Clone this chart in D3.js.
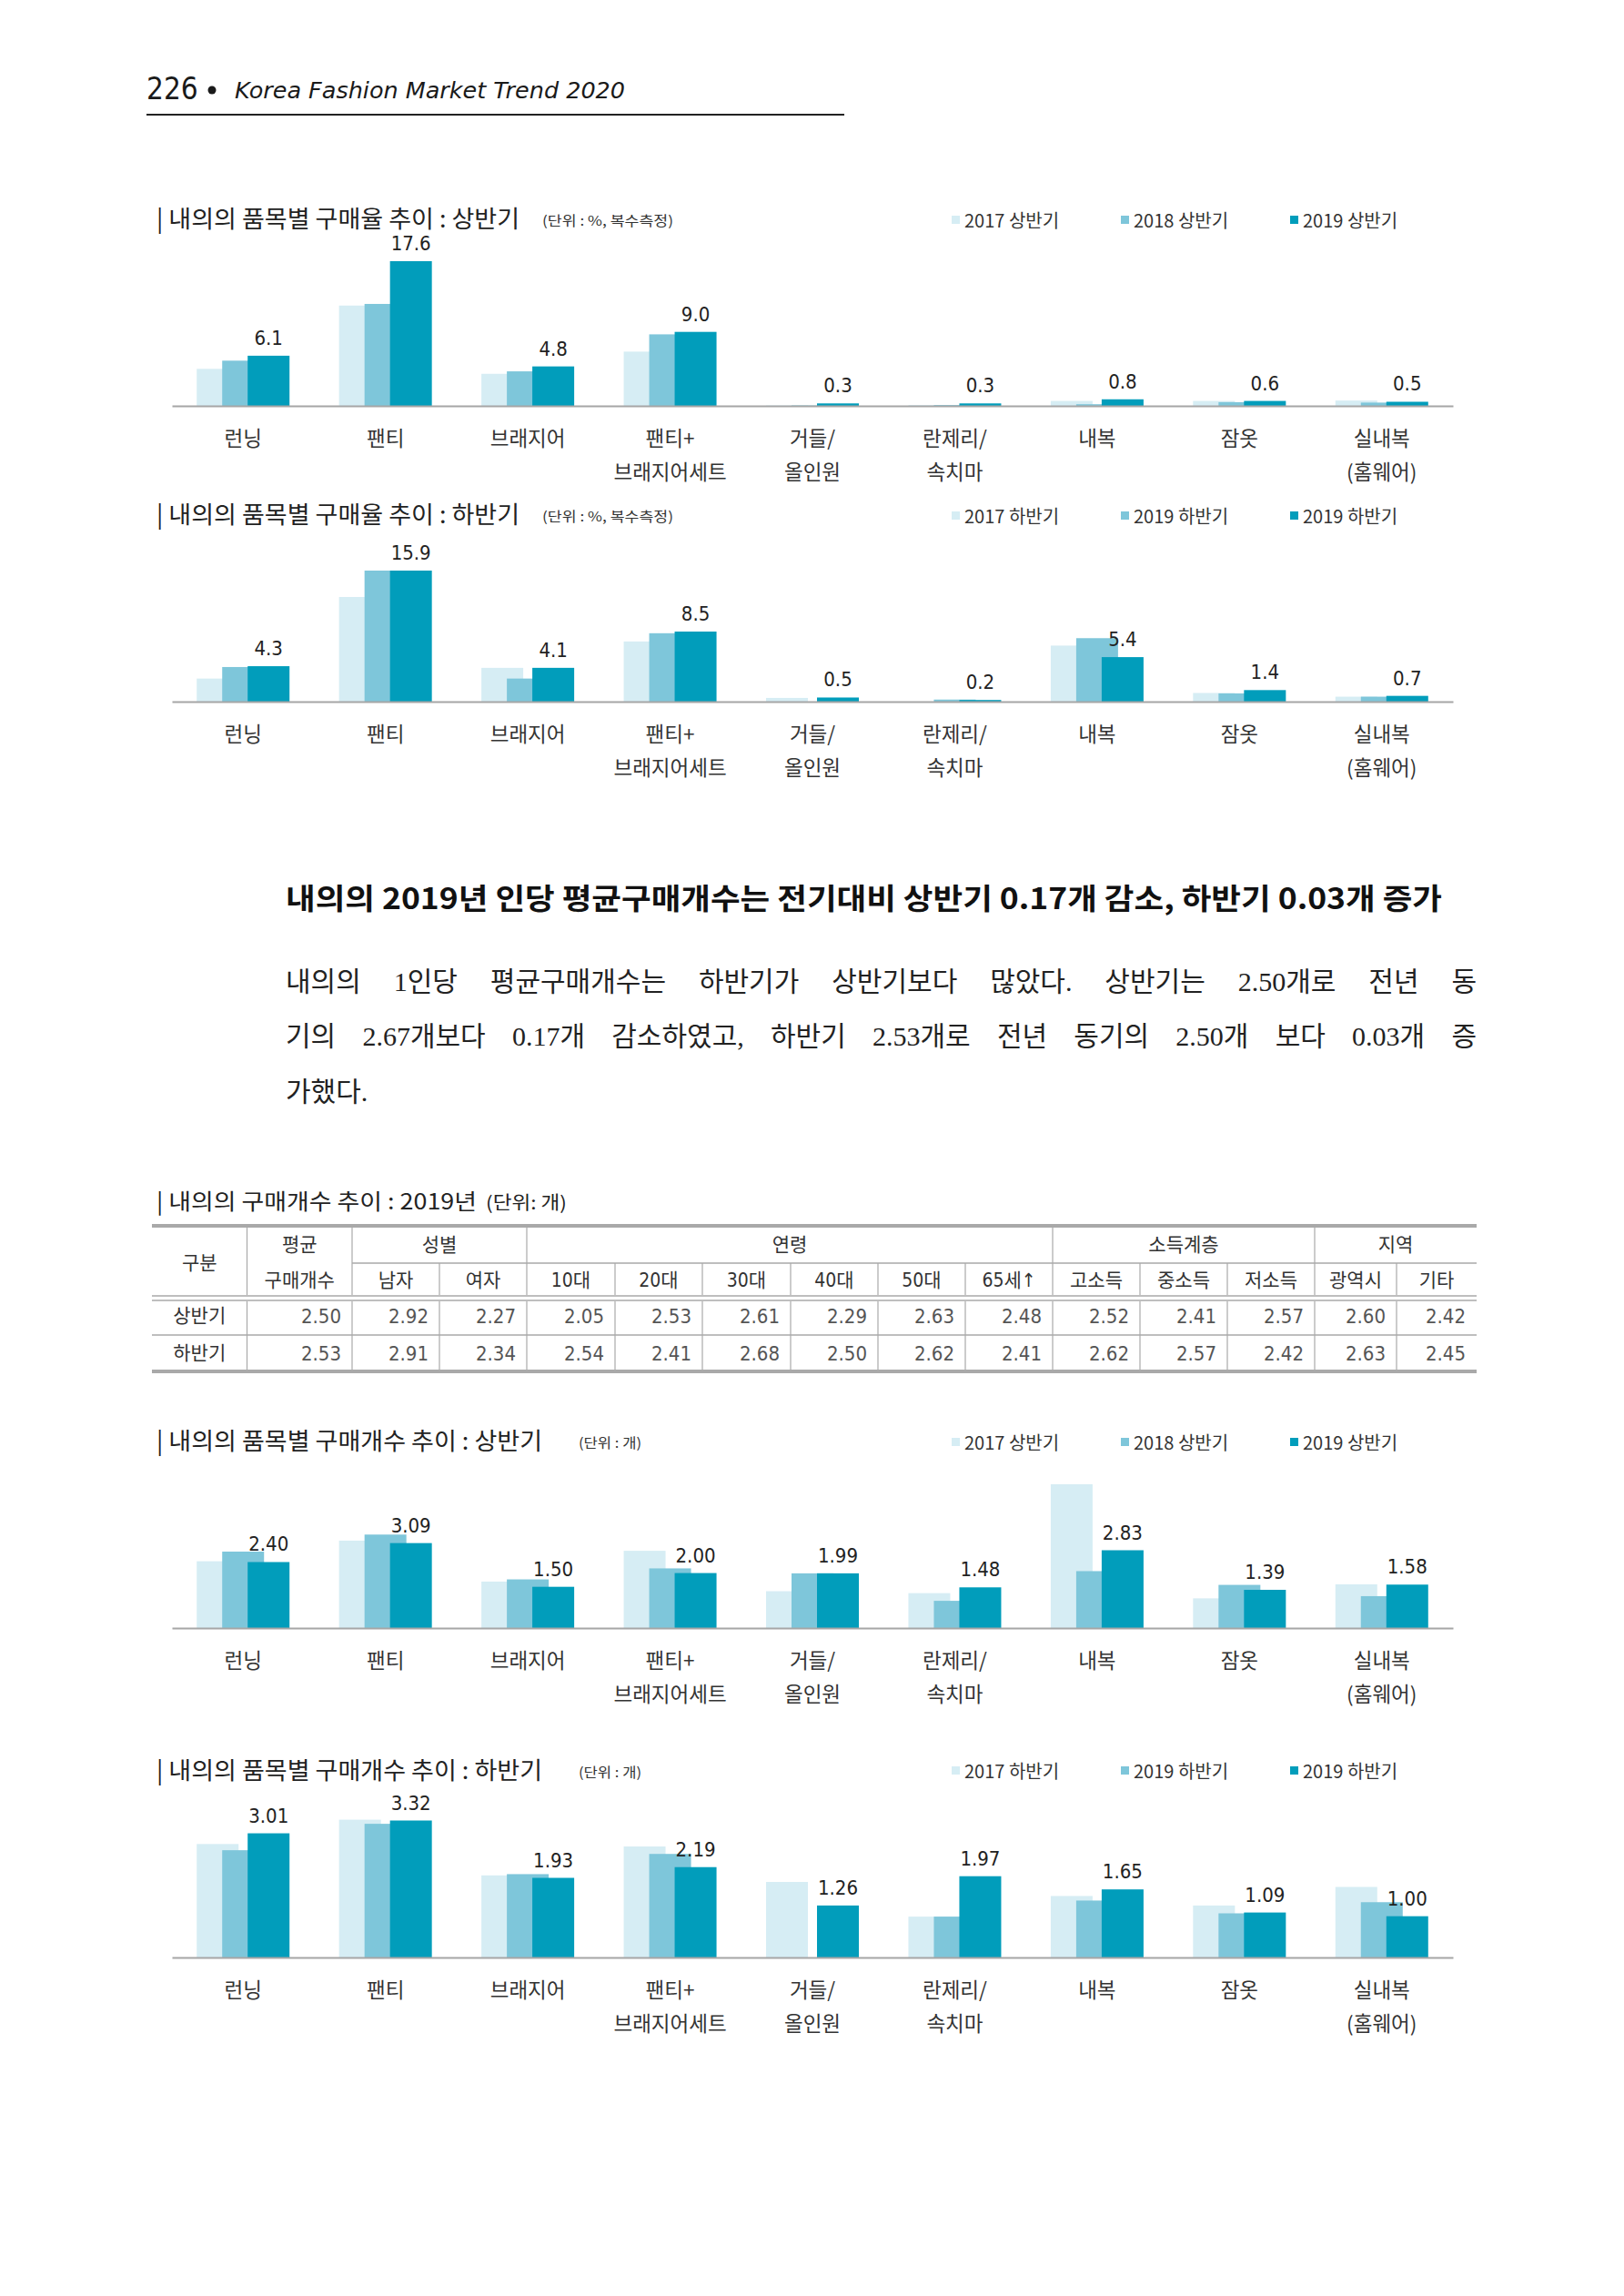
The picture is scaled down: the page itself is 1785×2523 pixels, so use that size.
<!DOCTYPE html>
<html>
<head>
<meta charset="utf-8">
<script src="https://cdn.jsdelivr.net/npm/d3@7"></script>
<style>
  body { margin: 0; background: #fff; }
  svg text { font-family: 'Noto Sans CJK KR', sans-serif; }
</style>
</head>
<body>
<div id="page"></div>
<script>
// ---- data ----
var pageNumber = '226';
var pageTitle = 'Korea Fashion Market Trend 2020';

var catLines = [['런닝'], ['팬티'], ['브래지어'], ['팬티+', '브래지어세트'], ['거들/', '올인원'],
  ['란제리/', '속치마'], ['내복'], ['잠옷'], ['실내복', '(홈웨어)']];

var legendH1 = ['2017 상반기', '2018 상반기', '2019 상반기'];
var legendH2 = ['2017 하반기', '2019 하반기', '2019 하반기'];

// 구매율 (%)
var rateH1_2017 = [4.5, 12.2, 3.9, 6.6, 0.05, 0.1, 0.6, 0.6, 0.65];
var rateH1_2018 = [5.5, 12.4, 4.2, 8.7, 0.05, 0.1, 0.2, 0.45, 0.4];
var rateH1_2019 = [6.1, 17.6, 4.8, 9.0, 0.3, 0.3, 0.8, 0.6, 0.5];

var rateH2_2017 = [2.8, 12.7, 4.1, 7.3, 0.45, 0, 6.8, 1.05, 0.6];
var rateH2_2018 = [4.2, 15.9, 2.8, 8.3, 0, 0.25, 7.7, 1.0, 0.6];
var rateH2_2019 = [4.3, 15.9, 4.1, 8.5, 0.5, 0.2, 5.4, 1.4, 0.7];

// 구매개수 (개)
var cntH1_2017 = [2.43, 3.18, 1.69, 2.81, 1.34, 1.27, 5.23, 1.08, 1.59];
var cntH1_2018 = [2.78, 3.40, 1.77, 2.17, 1.99, 0.99, 2.07, 1.57, 1.16];
var cntH1_2019 = [2.40, 3.09, 1.50, 2.00, 1.99, 1.48, 2.83, 1.39, 1.58];

var cntH2_2017 = [2.75, 3.34, 1.99, 2.69, 1.83, 0.99, 1.49, 1.26, 1.71];
var cntH2_2018 = [2.60, 3.24, 2.02, 2.51, 0, 0.99, 1.38, 1.07, 1.34];
var cntH2_2019 = [3.01, 3.32, 1.93, 2.19, 1.26, 1.97, 1.65, 1.09, 1.00];

var heading = '내의의 2019년 인당 평균구매개수는 전기대비 상반기 0.17개 감소, 하반기 0.03개 증가';
var paraLines = [
  '내의의 1인당 평균구매개수는 하반기가 상반기보다 많았다. 상반기는 2.50개로 전년 동',
  '기의 2.67개보다 0.17개 감소하였고, 하반기 2.53개로 전년 동기의 2.50개 보다 0.03개 증',
  '가했다.'
];

// table
var tableTitle = '| 내의의 구매개수 추이 : 2019년';
var tableUnit = '(단위: 개)';
var rowNames = ['상반기', '하반기'];
var genderCols = ['남자', '여자'];
var ageCols = ['10대', '20대', '30대', '40대', '50대', '65세↑'];
var incomeCols = ['고소득', '중소득', '저소득'];
var regionCols = ['광역시', '기타'];
var h1Values = [2.50, 2.92, 2.27, 2.05, 2.53, 2.61, 2.29, 2.63, 2.48, 2.52, 2.41, 2.57, 2.60, 2.42];
var h2Values = [2.53, 2.91, 2.34, 2.54, 2.41, 2.68, 2.50, 2.62, 2.41, 2.62, 2.57, 2.42, 2.63, 2.45];

var colors = ['#d6edf4', '#7ec6da', '#019dbb'];
var numFont = "'Liberation Sans Narrow', 'DejaVu Sans Condensed', 'Noto Sans CJK KR', sans-serif";

var svg = d3.select('#page').append('svg')
  .attr('width', 1785).attr('height', 2523);
svg.append('rect').attr('width', 1785).attr('height', 2523).attr('fill', '#fff');

// ---- page header ----
svg.append('text').attr('x', 161).attr('y', 109)
  .style('font-family', "'DejaVu Sans Condensed', 'DejaVu Sans'")
  .attr('font-size', 33).attr('fill', '#1a1a1a').text(pageNumber);
svg.append('circle').attr('cx', 233).attr('cy', 99).attr('r', 4.5).attr('fill', '#1a1a1a');
svg.append('text').attr('x', 258).attr('y', 108)
  .style('font-family', "'DejaVu Sans Condensed', 'DejaVu Sans'")
  .attr('font-style', 'italic').attr('font-size', 25).attr('fill', '#1a1a1a')
  .attr('textLength', 429).attr('lengthAdjust', 'spacingAndGlyphs')
  .text(pageTitle);
svg.append('line').attr('x1', 161).attr('x2', 928).attr('y1', 126).attr('y2', 126)
  .attr('stroke', '#222').attr('stroke-width', 2);

// ---- bar charts ----
function bar_chart(cfg) {
  var g = svg.append('g');
  var x = d3.scaleBand().domain(d3.range(catLines.length)).range([189, 1597]);
  var xs = d3.scalePoint().domain(d3.range(3)).range([0, 56]);
  var y = d3.scaleLinear().domain([0, cfg.yMax]).range([cfg.baseline, cfg.baseline - cfg.plotH]);
  var barW = 46;
  var groupLeft = function(j) { return x(j) + x.bandwidth() / 2 - 51; };

  g.append('text').attr('x', 172).attr('y', cfg.titleY)
    .attr('dominant-baseline', 'central').attr('font-size', 26).attr('fill', '#222')
    .attr('textLength', cfg.titleW).attr('lengthAdjust', 'spacingAndGlyphs')
    .text(cfg.title);
  g.append('text').attr('x', cfg.unitX).attr('y', cfg.titleY + 3)
    .attr('dominant-baseline', 'central').attr('font-size', 15).attr('fill', '#333')
    .attr('textLength', cfg.unitW).attr('lengthAdjust', 'spacingAndGlyphs')
    .text(cfg.unit);

  var lx = [1046, 1232, 1418];
  var lg = g.selectAll('g.legend').data(cfg.legend).enter().append('g')
    .attr('class', 'legend')
    .attr('transform', function(d, i) { return 'translate(' + lx[i] + ',' + cfg.legendY + ')'; });
  lg.append('rect').attr('x', 0).attr('y', -4).attr('width', 9).attr('height', 9)
    .attr('fill', function(d, i) { return colors[i]; });
  lg.append('text').attr('x', 14).attr('dominant-baseline', 'central')
    .attr('font-size', 20).attr('fill', '#333').text(function(d) { return d; });

  cfg.series.forEach(function(vals, i) {
    g.selectAll('rect.s' + i).data(vals).enter().append('rect')
      .attr('class', 's' + i)
      .attr('x', function(d, j) { return groupLeft(j) + xs(i); })
      .attr('y', function(d) { return y(d); })
      .attr('width', barW)
      .attr('height', function(d) { return cfg.baseline - y(d); })
      .attr('fill', colors[i]);
  });

  var axis = g.append('g').attr('transform', 'translate(0,' + cfg.baseline + ')')
    .call(d3.axisBottom(x).tickSize(0).tickSizeOuter(0).tickFormat(''));
  axis.select('.domain').attr('stroke', '#a6a6a6').attr('stroke-width', 2);

  // category labels
  var cl = g.selectAll('text.cat').data(catLines).enter().append('text')
    .attr('class', 'cat')
    .attr('text-anchor', 'middle').attr('font-size', 22.5).attr('fill', '#333');
  cl.each(function(lines, j) {
    var t = d3.select(this);
    lines.forEach(function(s, k) {
      t.append('tspan').attr('x', x(j) + x.bandwidth() / 2)
        .attr('y', cfg.baseline + 34 + k * 37)
        .attr('dominant-baseline', 'central').text(s);
    });
  });

  // value labels on 2019 bars
  var fmt = d3.format(cfg.fmt);
  g.selectAll('text.val').data(cfg.series[2]).enter().append('text')
    .attr('class', 'val')
    .attr('x', function(d, j) { return groupLeft(j) + xs(2) + barW / 2; })
    .attr('y', function(d) { return y(d) - 12; })
    .attr('text-anchor', 'middle')
    .style('font-family', numFont)
    .attr('font-size', 22).attr('fill', '#222')
    .text(function(d) { return fmt(d); });
}

bar_chart({ title: '| 내의의 품목별 구매율 추이 : 상반기', unit: '(단위 : %, 복수측정)', unitX: 596,
  titleW: 399, unitW: 144,
  legend: legendH1, series: [rateH1_2017, rateH1_2018, rateH1_2019], fmt: '.1f',
  titleY: 238, legendY: 241, baseline: 446, yMax: 17.6, plotH: 159 });
bar_chart({ title: '| 내의의 품목별 구매율 추이 : 하반기', unit: '(단위 : %, 복수측정)', unitX: 596,
  titleW: 399, unitW: 144,
  legend: legendH2, series: [rateH2_2017, rateH2_2018, rateH2_2019], fmt: '.1f',
  titleY: 563, legendY: 566, baseline: 771, yMax: 15.9, plotH: 144 });
bar_chart({ title: '| 내의의 품목별 구매개수 추이 : 상반기', unit: '(단위 : 개)', unitX: 636,
  titleW: 424, unitW: 69,
  legend: legendH1, series: [cntH1_2017, cntH1_2018, cntH1_2019], fmt: '.2f',
  titleY: 1581, legendY: 1584, baseline: 1789, yMax: 5.23, plotH: 158 });
bar_chart({ title: '| 내의의 품목별 구매개수 추이 : 하반기', unit: '(단위 : 개)', unitX: 636,
  titleW: 424, unitW: 69,
  legend: legendH2, series: [cntH2_2017, cntH2_2018, cntH2_2019], fmt: '.2f',
  titleY: 1943, legendY: 1945, baseline: 2151, yMax: 3.32, plotH: 150.5 });

// ---- heading + paragraph ----
svg.append('text').attr('x', 314).attr('y', 985)
  .attr('dominant-baseline', 'central')
  .attr('font-size', 32).attr('font-weight', 'bold').attr('fill', '#111')
  .attr('textLength', 1271).attr('lengthAdjust', 'spacingAndGlyphs')
  .text(heading);

var paraY = [1078, 1138, 1199];
paraLines.forEach(function(line, i) {
  var t = svg.append('text').attr('y', paraY[i]).attr('dominant-baseline', 'central')
    .style('font-family', "'Liberation Serif', 'Noto Sans CJK KR', serif")
    .attr('font-size', 30).attr('fill', '#222');
  var words = line.split(' ');
  if (i === paraLines.length - 1) {
    t.attr('x', 314).text(line);
    return;
  }
  var widths = words.map(function(w) {
    var tmp = t.append('tspan').text(w);
    var wd = tmp.node().getComputedTextLength();
    tmp.remove();
    return wd;
  });
  var gap = (1309 - d3.sum(widths)) / (words.length - 1);
  var cx = 314;
  words.forEach(function(w, k) {
    t.append('tspan').attr('x', cx).text(w);
    cx += widths[k] + gap;
  });
});

// ---- table ----
var tg = svg.append('g');
tg.append('text').attr('x', 172).attr('y', 1318).attr('dominant-baseline', 'central')
  .attr('font-size', 24).attr('fill', '#222')
  .attr('textLength', 352).attr('lengthAdjust', 'spacingAndGlyphs')
  .text(tableTitle);
tg.append('text').attr('x', 534).attr('y', 1320).attr('dominant-baseline', 'central')
  .attr('font-size', 20).attr('fill', '#222')
  .attr('textLength', 89).attr('lengthAdjust', 'spacingAndGlyphs')
  .text(tableUnit);

var colEdges = [167, 271.5, 387, 483, 579, 676, 772, 869, 965, 1061, 1157, 1253, 1349, 1445, 1535, 1623];
var yTop = 1347, yMid = 1388, yDbl = 1424, yRow = 1467, yBot = 1507;
var lineCol = '#a9a9a9';

// horizontal rules
tg.append('line').attr('x1', 167).attr('x2', 1623).attr('y1', yTop).attr('y2', yTop)
  .attr('stroke', lineCol).attr('stroke-width', 4);
tg.append('line').attr('x1', colEdges[2]).attr('x2', 1623).attr('y1', yMid).attr('y2', yMid)
  .attr('stroke', lineCol).attr('stroke-width', 1.5);
[yDbl, yDbl + 5].forEach(function(yy) {
  tg.append('line').attr('x1', 167).attr('x2', 1623).attr('y1', yy).attr('y2', yy)
    .attr('stroke', lineCol).attr('stroke-width', 1.5);
});
tg.append('line').attr('x1', 167).attr('x2', 1623).attr('y1', yRow).attr('y2', yRow)
  .attr('stroke', lineCol).attr('stroke-width', 1.5);
tg.append('line').attr('x1', 167).attr('x2', 1623).attr('y1', yBot).attr('y2', yBot)
  .attr('stroke', lineCol).attr('stroke-width', 4);

// vertical rules
var fullV = [1, 2, 4, 10, 13];
colEdges.forEach(function(ex, i) {
  if (i === 0 || i === colEdges.length - 1) return;
  var y1 = fullV.indexOf(i) >= 0 ? yTop + 2 : yMid;
  tg.append('line').attr('x1', ex).attr('x2', ex).attr('y1', y1).attr('y2', yDbl - 1)
    .attr('stroke', lineCol).attr('stroke-width', 1.2);
  tg.append('line').attr('x1', ex).attr('x2', ex).attr('y1', yDbl + 6).attr('y2', yBot - 2)
    .attr('stroke', lineCol).attr('stroke-width', 1.2);
});

function cellMid(a, b) { return (colEdges[a] + colEdges[b]) / 2; }
var hdrStyle = function(s) {
  return s.attr('text-anchor', 'middle').attr('dominant-baseline', 'central')
    .style('font-family', numFont).attr('font-size', 21).attr('fill', '#333');
};
hdrStyle(tg.append('text').attr('x', cellMid(0, 1)).attr('y', 1388)).text('구분');
hdrStyle(tg.append('text').attr('x', cellMid(1, 2)).attr('y', 1368)).text('평균');
hdrStyle(tg.append('text').attr('x', cellMid(1, 2)).attr('y', 1407)).text('구매개수');

var groups = [
  { name: '성별', from: 2, to: 4 },
  { name: '연령', from: 4, to: 10 },
  { name: '소득계층', from: 10, to: 13 },
  { name: '지역', from: 13, to: 15 }
];
groups.forEach(function(gr) {
  hdrStyle(tg.append('text').attr('x', cellMid(gr.from, gr.to)).attr('y', 1368)).text(gr.name);
});
var subCols = genderCols.concat(ageCols, incomeCols, regionCols);
subCols.forEach(function(s, i) {
  hdrStyle(tg.append('text').attr('x', cellMid(i + 2, i + 3)).attr('y', 1407)).text(s);
});

var rowY = [1446, 1487];
[h1Values, h2Values].forEach(function(vals, r) {
  hdrStyle(tg.append('text').attr('x', cellMid(0, 1)).attr('y', rowY[r])).text(rowNames[r]);
  vals.forEach(function(v, i) {
    tg.append('text').attr('x', colEdges[i + 2] - 12).attr('y', rowY[r])
      .attr('text-anchor', 'end').attr('dominant-baseline', 'central')
      .style('font-family', numFont).attr('font-size', 22).attr('fill', '#555')
      .text(d3.format('.2f')(v));
  });
});
</script>
</body>
</html>
